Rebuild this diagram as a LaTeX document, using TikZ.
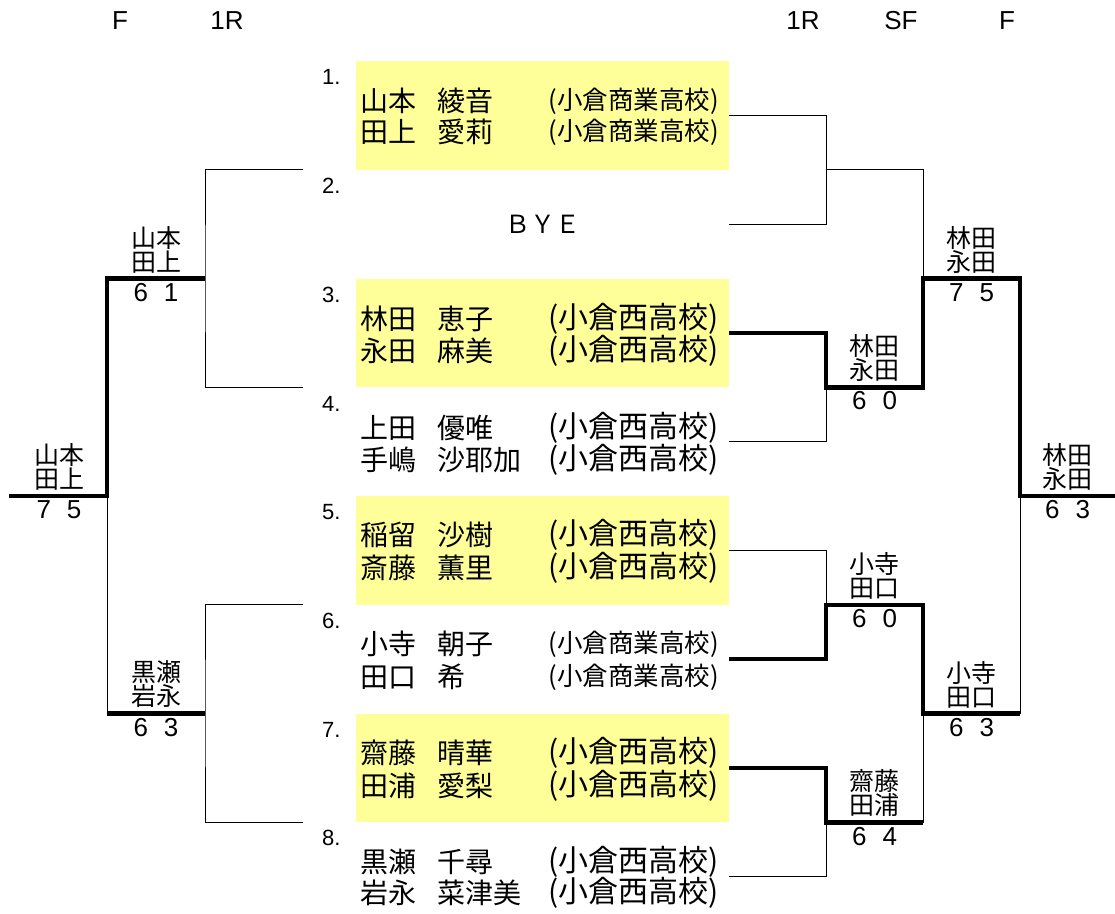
\documentclass[tikz,border=0pt]{standalone}
\usepackage{fontspec}
\setmainfont{Liberation Sans}
\newfontfamily\jpfont{Noto Sans CJK JP}
\usepackage{tikz}
\usetikzlibrary{positioning}
\definecolor{hiyellow}{HTML}{FFFF99}
\newcommand\gamescore[2]{#1\hspace{16pt}#2}
\newcommand\pname[2]{#1\hspace{21pt}#2}
\tikzset{
  slot/.style={rectangle, minimum width=373pt, minimum height=108.75pt, inner sep=0pt, outer sep=0pt, font=\jpfont\fontsize{25}{25}\selectfont},
  hlslot/.style={slot, fill=hiyellow},
  num/.style={anchor=west, inner sep=0pt, font=\fontsize{22}{22}\selectfont},
  player/.style={anchor=west, inner sep=0pt, font=\jpfont\fontsize{28}{28}\selectfont},
  school/.style={anchor=east, inner sep=0pt, font=\jpfont\fontsize{30}{30}\selectfont},
  schoolsm/.style={school, font=\jpfont\fontsize{25.5}{25.5}\selectfont},
  pair/.style={align=center, inner sep=0pt, font=\jpfont\fontsize{25}{24}\selectfont},
  score/.style={inner sep=0pt, font=\fontsize{26}{26}\selectfont},
  hdr/.style={inner sep=0pt, font=\fontsize{26}{26}\selectfont},
  lose/.style={line width=1pt},
  win/.style={line width=4.5pt},
}
\begin{document}
\begin{tikzpicture}[x=1pt, y=-1pt, node distance=0pt]
  \useasboundingbox (0,0) rectangle (1115,913);
  % round headings
  \node[hdr] (hf1) at (120,21) {F};
  \node[hdr] (hr1) at (227,21) {1R};
  \node[hdr] (hr2) at (803,21) {1R};
  \node[hdr] (hsf) at (901,21) {SF};
  \node[hdr] (hf2) at (1007,21) {F};
  % draw slots
  \node[hlslot] (s1) at (542.5,115.4) {};
  \node[slot, below=of s1] (s2) {ＢＹＥ};
  \node[hlslot, below=of s2] (s3) {};
  \node[slot, below=of s3] (s4) {};
  \node[hlslot, below=of s4] (s5) {};
  \node[slot, below=of s5] (s6) {};
  \node[hlslot, below=of s6] (s7) {};
  \node[slot, below=of s7] (s8) {};
  % slot 1
  \node[num] (n1) at ([shift={(-34pt,-16pt)}]s1.north west) {1.};
  \node[player] (p1a) at ([shift={(4pt,-40pt)}]s1.north west) {\pname{山本}{綾音}};
  \node[player] (p1b) at ([shift={(4pt,-71pt)}]s1.north west) {\pname{田上}{愛莉}};
  \node[schoolsm] (c1a) at ([shift={(-10pt,-40pt)}]s1.north east) {(小倉商業高校)};
  \node[schoolsm] (c1b) at ([shift={(-10pt,-71pt)}]s1.north east) {(小倉商業高校)};
  % slot 2
  \node[num] (n2) at ([shift={(-34pt,-16pt)}]s2.north west) {2.};
  % slot 3
  \node[num] (n3) at ([shift={(-34pt,-16pt)}]s3.north west) {3.};
  \node[player] (p3a) at ([shift={(4pt,-40pt)}]s3.north west) {\pname{林田}{恵子}};
  \node[player] (p3b) at ([shift={(4pt,-72pt)}]s3.north west) {\pname{永田}{麻美}};
  \node[school] (c3a) at ([shift={(-10pt,-40pt)}]s3.north east) {(小倉西高校)};
  \node[school] (c3b) at ([shift={(-10pt,-72pt)}]s3.north east) {(小倉西高校)};
  % slot 4
  \node[num] (n4) at ([shift={(-34pt,-17pt)}]s4.north west) {4.};
  \node[player] (p4a) at ([shift={(4pt,-41pt)}]s4.north west) {\pname{上田}{優唯}};
  \node[player] (p4b) at ([shift={(4pt,-73pt)}]s4.north west) {\pname{手嶋}{沙耶加}};
  \node[school] (c4a) at ([shift={(-10pt,-41pt)}]s4.north east) {(小倉西高校)};
  \node[school] (c4b) at ([shift={(-10pt,-73pt)}]s4.north east) {(小倉西高校)};
  % slot 5
  \node[num] (n5) at ([shift={(-34pt,-16pt)}]s5.north west) {5.};
  \node[player] (p5a) at ([shift={(4pt,-39pt)}]s5.north west) {\pname{稲留}{沙樹}};
  \node[player] (p5b) at ([shift={(4pt,-72pt)}]s5.north west) {\pname{斎藤}{薫里}};
  \node[school] (c5a) at ([shift={(-10pt,-39pt)}]s5.north east) {(小倉西高校)};
  \node[school] (c5b) at ([shift={(-10pt,-72pt)}]s5.north east) {(小倉西高校)};
  % slot 6
  \node[num] (n6) at ([shift={(-34pt,-16pt)}]s6.north west) {6.};
  \node[player] (p6a) at ([shift={(4pt,-39pt)}]s6.north west) {\pname{小寺}{朝子}};
  \node[player] (p6b) at ([shift={(4pt,-72pt)}]s6.north west) {\pname{田口}{希}};
  \node[schoolsm] (c6a) at ([shift={(-10pt,-39pt)}]s6.north east) {(小倉商業高校)};
  \node[schoolsm] (c6b) at ([shift={(-10pt,-72pt)}]s6.north east) {(小倉商業高校)};
  % slot 7
  \node[num] (n7) at ([shift={(-34pt,-16pt)}]s7.north west) {7.};
  \node[player] (p7a) at ([shift={(4pt,-39pt)}]s7.north west) {\pname{齋藤}{晴華}};
  \node[player] (p7b) at ([shift={(4pt,-72pt)}]s7.north west) {\pname{田浦}{愛梨}};
  \node[school] (c7a) at ([shift={(-10pt,-39pt)}]s7.north east) {(小倉西高校)};
  \node[school] (c7b) at ([shift={(-10pt,-72pt)}]s7.north east) {(小倉西高校)};
  % slot 8
  \node[num] (n8) at ([shift={(-34pt,-16pt)}]s8.north west) {8.};
  \node[player] (p8a) at ([shift={(4pt,-40pt)}]s8.north west) {\pname{黒瀬}{千尋}};
  \node[player] (p8b) at ([shift={(4pt,-71pt)}]s8.north west) {\pname{岩永}{菜津美}};
  \node[school] (c8a) at ([shift={(-10pt,-40pt)}]s8.north east) {(小倉西高校)};
  \node[school] (c8b) at ([shift={(-10pt,-71pt)}]s8.north east) {(小倉西高校)};
  % bracket joints
  \coordinate (m12) at ([xshift=97pt]s1.south east);
  \coordinate (m34) at ([xshift=97pt]s3.south east);
  \coordinate (m56) at ([xshift=97pt]s5.south east);
  \coordinate (m78) at ([xshift=97pt]s7.south east);
  \coordinate (sf1) at ([xshift=194pt]s2.south east);
  \coordinate (sf2) at ([xshift=194pt]s6.south east);
  \coordinate (fr) at ([xshift=291pt]s4.south east);
  \coordinate (frend) at ([xshift=390pt]s4.south east);
  \coordinate (e2) at ([xshift=-53pt]s2.north west);
  \coordinate (e4) at ([xshift=-53pt]s4.north west);
  \coordinate (e6) at ([xshift=-53pt]s6.north west);
  \coordinate (e8) at ([xshift=-53pt]s8.north west);
  \coordinate (ml1) at ([xshift=-151pt]s2.south west);
  \coordinate (ml2) at ([xshift=-151pt]s6.south west);
  \coordinate (lf) at ([xshift=-249pt]s4.south west);
  \coordinate (lfend) at ([xshift=-347pt]s4.south west);
  % right side
  \draw[lose] (s1.east) -| (m12) |- (s2.east);
  \draw[lose] (m12) -| (sf1);
  \draw[lose] (s4.east) -| (m34);
  \draw[win] (s3.east) -| (m34) -| (sf1) -| (fr) -- (frend);
  \draw[lose] (s5.east) -| (m56);
  \draw[lose] (s8.east) -| (m78) -| (sf2) -| (fr);
  \draw[win] (s6.east) -| (m56) -| (sf2) -- (sf2 -| fr);
  \draw[win] (s7.east) -| (m78) -- (m78 -| sf2);
  % left side
  \draw[lose] (e2) -| (ml1) |- (e4);
  \draw[lose] (e6) -| (ml2) |- (e8);
  \draw[lose] (ml2 -| lf) -- (lf);
  \draw[win] (ml1) -| (lf) -- (lfend);
  \draw[win] (ml2) -- (ml2 -| lf);
  % winners and scores
  \node[pair] (w1) at (156,249.5) {山本\\田上};
  \node[score] (g1) at (156,292.5) {\gamescore{6}{1}};
  \node[pair] (w2) at (59,467) {山本\\田上};
  \node[score] (g2) at (59,510) {\gamescore{7}{5}};
  \node[pair] (w3) at (156,684.5) {黒瀬\\岩永};
  \node[score] (g3) at (156,727.5) {\gamescore{6}{3}};
  \node[pair] (w4) at (874.5,358) {林田\\永田};
  \node[score] (g4) at (874.5,401) {\gamescore{6}{0}};
  \node[pair] (w5) at (971.5,249.5) {林田\\永田};
  \node[score] (g5) at (971.5,292.5) {\gamescore{7}{5}};
  \node[pair] (w6) at (1067.5,467) {林田\\永田};
  \node[score] (g6) at (1067.5,510) {\gamescore{6}{3}};
  \node[pair] (w7) at (874.5,575.75) {小寺\\田口};
  \node[score] (g7) at (874.5,618.75) {\gamescore{6}{0}};
  \node[pair] (w8) at (971.5,684.5) {小寺\\田口};
  \node[score] (g8) at (971.5,727.5) {\gamescore{6}{3}};
  \node[pair] (w9) at (874.5,793.25) {齋藤\\田浦};
  \node[score] (g9) at (874.5,836.25) {\gamescore{6}{4}};
\end{tikzpicture}
\end{document}
